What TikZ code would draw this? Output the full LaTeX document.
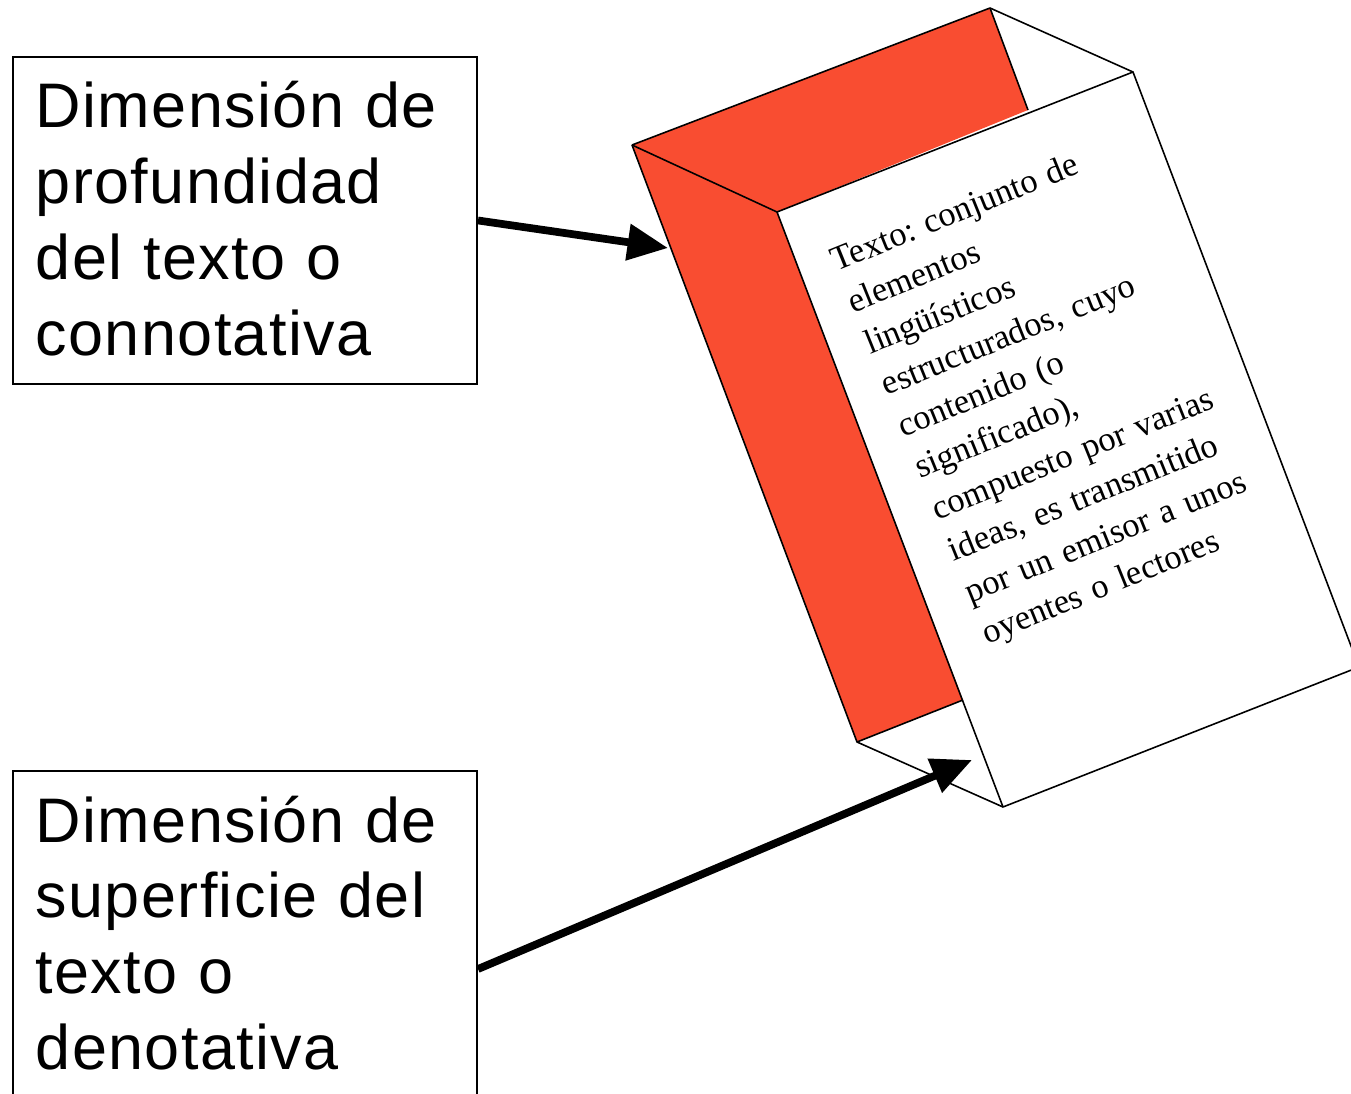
\documentclass[tikz,border=0pt]{standalone}
\usepackage{fontspec}
\setmainfont{Liberation Serif}
\setsansfont[LetterSpace=2.2, WordSpace=0.6]{Liberation Sans}
\usetikzlibrary{arrows.meta, positioning}

\definecolor{panelred}{RGB}{249,77,49}

\tikzset{
  label box/.style={draw=black, line width=0.5pt, anchor=north west, inner sep=0pt, minimum width=4.64cm},
  label text/.style={anchor=base west, text width=4.4cm, align=left, inner sep=0pt,
    font=\sffamily\fontsize{17.9}{21.6}\selectfont},
  fold/.style={draw=black, line width=0.45pt, line join=round},
  pointer/.style={line width=2.2pt, -{Triangle[length=11.5pt, width=10pt]}}
}

\begin{document}
\frenchspacing
\begin{tikzpicture}[x=0.01cm, y=-0.01cm]
				\useasboundingbox (0,0) rectangle (1351,1094);
				\clip (0,0) rectangle (1351,1094);
				% Corners of the open box
				\coordinate (A) at (632,145);
				\coordinate (B) at (990,8);
				\coordinate (C) at (1133,72);
				\coordinate (D) at (777,212);
				\coordinate (G) at (1003,807);
				\coordinate (F) at (1359,667);
				\coordinate (E) at (857,742);
				\coordinate (Bi) at (1028,110);
				\coordinate (Gi) at (963,700);
				% Red inside walls
				\fill[panelred] (A) -- (B) -- (Bi) -- (D) -- (Gi) -- (E) -- cycle;
				% Edges
				\draw[fold] (A) -- (B) -- (C) -- (F) -- (G) -- (D) -- (C);
				\draw[fold] (B) -- (Bi);
				\draw[fold] (A) -- (D);
				\draw[fold] (A) -- (E) -- (Gi);
				\draw[fold] (E) -- (G);
				% Text on the front face
				\node (body) [rotate=22, anchor=base west, text width=4cm, align=left, inner sep=0pt,
				  font=\fontsize{9.8}{12.7}\selectfont] at (836,272)
				  {Texto: conjunto de\\ elementos\\ lingüísticos\\ estructurados, cuyo\\ contenido (o\\
				   significado),\\ compuesto por varias\\ ideas, es transmitido\\ por un emisor a unos\\
				   oyentes o lectores};
				% Label boxes
				\node (deep) [label box, minimum height=3.27cm] at (12,56) {};
				\node (deeptext) [label text] at (35,128) {Dimensión de\\ profundidad\\ del texto o\\ connotativa};
				\node (surface) [label box, minimum height=3.96cm] at (12,770) {};
				\node (surfacetext) [label text] at (35,842) {Dimensión de\\ superficie del\\ texto o\\ denotativa};
				% Pointers
				\coordinate (deeptip) at (668,248);
				\coordinate (surfacetip) at (972,760);
				\draw[pointer] (deep.east) -- (deeptip);
				\draw[pointer] (surface.east) -- (surfacetip);
\end{tikzpicture}
\end{document}
